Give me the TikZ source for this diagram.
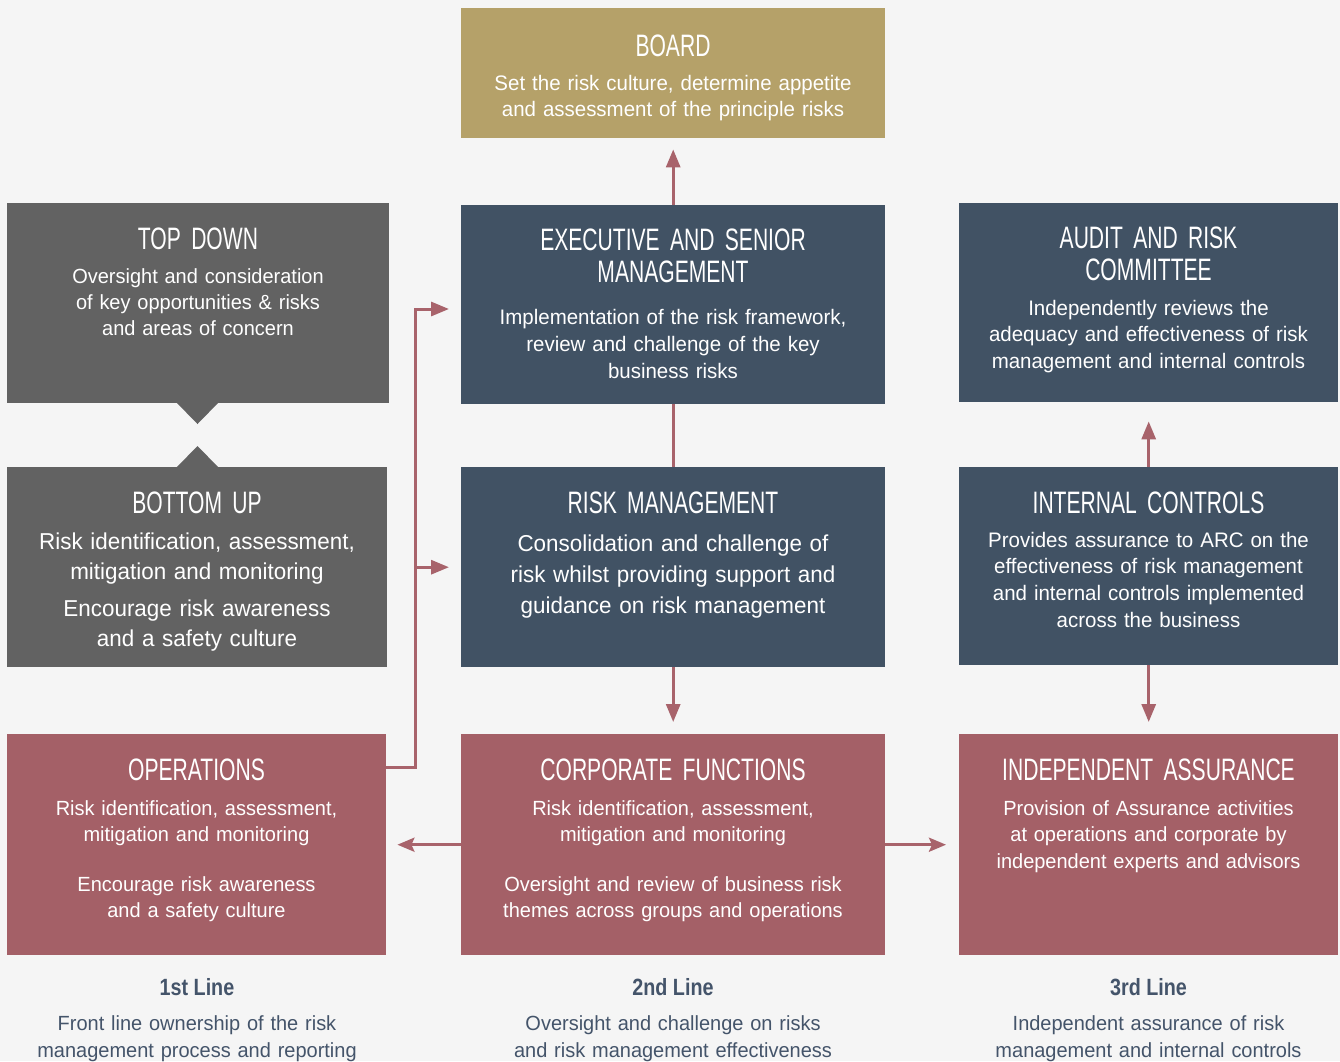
\documentclass[tikz,border=0pt]{standalone}
\usepackage{fontspec}
\setmainfont[FakeStretch=0.975]{Liberation Sans}
\newfontfamily\condfont[FakeStretch=0.68,WordSpace=0.65]{Liberation Sans}
\newfontfamily\condbold[FakeStretch=0.84]{Liberation Sans}
\usetikzlibrary{arrows.meta}
\definecolor{bgc}{HTML}{F5F5F5}
\definecolor{goldc}{HTML}{B5A169}
\definecolor{slatec}{HTML}{415264}
\definecolor{greyc}{HTML}{626262}
\definecolor{redc}{HTML}{A46067}
\definecolor{arrowc}{HTML}{A8636B}
\definecolor{labelc}{HTML}{44546A}
\tikzset{
  box/.style={rectangle, draw=none, anchor=north west, inner sep=0pt},
  ttl/.style={text=white, font=\condfont\fontsize{31}{32}\selectfont, align=center, anchor=base, text width=420pt, inner sep=0pt},
  bdy/.style={text=white, font=\fontsize{21}{26.5}\selectfont, align=center, anchor=base, text width=420pt, inner sep=0pt},
  bdylarge/.style={text=white, font=\fontsize{23}{30.5}\selectfont, align=center, anchor=base, text width=420pt, inner sep=0pt},
  lblhead/.style={text=labelc, font=\condbold\bfseries\fontsize{23.5}{26}\selectfont, anchor=base, inner sep=0pt},
  lbltext/.style={text=labelc, font=\fontsize{20.5}{27}\selectfont, align=center, anchor=base, text width=420pt, inner sep=0pt},
  conn/.style={draw=arrowc, line width=3pt},
  arr/.style={conn, -{Triangle[length=18pt,width=14pt]}},
  harr/.style={conn, -{Stealth[length=17pt,width=14pt,inset=3pt]}}
}
\begin{document}
\begin{tikzpicture}[x=1pt,y=-1pt]
\fill[bgc] (0,0) rectangle (1340,1061);
\useasboundingbox (0,0) rectangle (1340,1061);

% boxes
\node[box, fill=goldc, minimum width=424pt, minimum height=130pt] (board) at (461,8) {};
\node[box, fill=slatec, minimum width=424pt, minimum height=199pt] (exec) at (461,205) {};
\node[box, fill=slatec, minimum width=424pt, minimum height=200pt] (risk) at (461,467) {};
\node[box, fill=redc, minimum width=424pt, minimum height=221pt] (corp) at (461,734) {};
\node[box, fill=greyc, minimum width=382pt, minimum height=200pt] (topdown) at (7,203) {};
\node[box, fill=greyc, minimum width=380pt, minimum height=200pt] (bottomup) at (7,467) {};
\node[box, fill=redc, minimum width=379pt, minimum height=221pt] (ops) at (7,734) {};
\node[box, fill=slatec, minimum width=379pt, minimum height=199pt] (audit) at (959,203) {};
\node[box, fill=slatec, minimum width=379pt, minimum height=198pt] (intctl) at (959,467) {};
\node[box, fill=redc, minimum width=379pt, minimum height=221pt] (indep) at (959,734) {};

% notches
\fill[greyc] (176,402) -- (219,402) -- (197.5,424) -- cycle;
\fill[greyc] (176,468) -- (219,468) -- (197.5,446) -- cycle;

% connectors
\draw[arr, shorten >=11pt] (exec.north) -- (board.south);
\draw[conn] (exec.south) -- (risk.north);
\draw[arr, shorten >=12pt] (risk.south) -- (corp.north);
\draw[arr, shorten >=19pt] (intctl.north) -- (audit.south);
\draw[arr, shorten >=12pt] (intctl.south) -- (indep.north);
\draw[harr, shorten >=11pt] (corp.west) -- (ops.east);
\draw[harr, shorten >=13pt] (corp.east) -- (indep.west);
\coordinate (trunk) at (415,309);
\draw[arr, shorten >=12pt, line join=miter] ([yshift=-33pt]ops.north east) -| (trunk) -- (trunk -| exec.west);
\draw[arr, shorten >=12pt] (trunk |- risk.west) -- (risk.west);

% texts: board
\node[ttl] (t-board) at (673,56) {BOARD};
\node[bdy] (b-board) at (673,90) {Set the risk culture, determine appetite\\and assessment of the principle risks};
% top down
\node[ttl] (t-td) at (198,249) {TOP DOWN};
\node[bdy, font=\fontsize{20.5}{26.3}\selectfont] (b-td) at (198,283) {Oversight and consideration\\of key opportunities \& risks\\and areas of concern};
% exec
\node[ttl] (t-exec) at (673,250) {EXECUTIVE AND SENIOR\\MANAGEMENT};
\node[bdy, font=\fontsize{21}{27}\selectfont] (b-exec) at (673,324) {Implementation of the risk framework,\\review and challenge of the key\\business risks};
% audit
\node[ttl] (t-audit) at (1148.5,248) {AUDIT AND RISK\\COMMITTEE};
\node[bdy] (b-audit) at (1148.5,315) {Independently reviews the\\adequacy and effectiveness of risk\\management and internal controls};
% bottom up
\node[ttl] (t-bu) at (197,513) {BOTTOM UP};
\node[bdylarge, font=\fontsize{23}{30}\selectfont] (b-bu) at (197,549) {Risk identification, assessment,\\mitigation and monitoring\\[7pt]Encourage risk awareness\\and a safety culture};
% risk management
\node[ttl] (t-risk) at (673,513) {RISK MANAGEMENT};
\node[bdylarge, font=\fontsize{23}{31}\selectfont] (b-risk) at (673,551) {Consolidation and challenge of\\risk whilst providing support and\\guidance on risk management};
% internal controls
\node[ttl] (t-ic) at (1148.5,513) {INTERNAL CONTROLS};
\node[bdy, font=\fontsize{21}{26.7}\selectfont] (b-ic) at (1148.5,547) {Provides assurance to ARC on the\\effectiveness of risk management\\and internal controls implemented\\across the business};
% operations
\node[ttl] (t-ops) at (196.5,780) {OPERATIONS};
\node[bdy, font=\fontsize{20.5}{26}\selectfont] (b-ops) at (196.5,815) {Risk identification, assessment,\\mitigation and monitoring\\[24pt]Encourage risk awareness\\and a safety culture};
% corporate
\node[ttl] (t-corp) at (673,780) {CORPORATE FUNCTIONS};
\node[bdy, font=\fontsize{20.5}{26}\selectfont] (b-corp) at (673,815) {Risk identification, assessment,\\mitigation and monitoring\\[24pt]Oversight and review of business risk\\themes across groups and operations};
% independent
\node[ttl] (t-ind) at (1148.5,780) {INDEPENDENT ASSURANCE};
\node[bdy, font=\fontsize{20.5}{26.5}\selectfont] (b-ind) at (1148.5,815) {Provision of Assurance activities\\at operations and corporate by\\independent experts and advisors};

% bottom labels
\node[lblhead] (l1) at (197,995) {1st Line};
\node[lbltext] (l1t) at (197,1030) {Front line ownership of the risk\\management process and reporting};
\node[lblhead] (l2) at (673,995) {2nd Line};
\node[lbltext] (l2t) at (673,1030) {Oversight and challenge on risks\\and risk management effectiveness};
\node[lblhead] (l3) at (1148.5,995) {3rd Line};
\node[lbltext] (l3t) at (1148.5,1030) {Independent assurance of risk\\management and internal controls};
\end{tikzpicture}
\end{document}
